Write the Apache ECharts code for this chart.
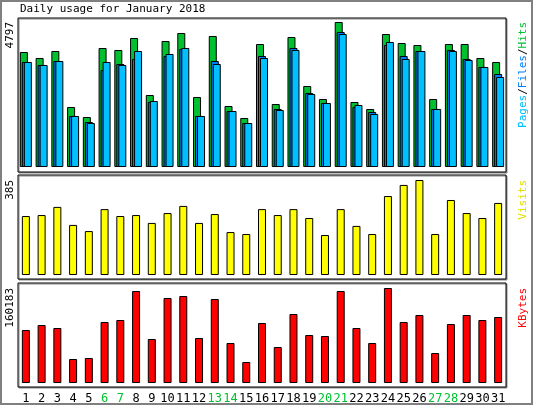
<!DOCTYPE html>
<html><head><meta charset="utf-8">
<script src="https://cdn.jsdelivr.net/npm/echarts@6/dist/echarts.min.js"></script>
<style>html,body{margin:0;padding:0;background:#fff}#c{width:533px;height:405px}</style>
</head><body><div id="c"></div>
<script>
const days = ['1','2','3','4','5','6','7','8','9','10','11','12','13','14','15','16','17','18','19','20','21','22','23','24','25','26','27','28','29','30','31'];
const weekend = ['6','7','13','14','20','21','27','28'];
const hits = [3805,3607,3838,1985,1654,3937,3871,4268,2382,4168,4433,2316,4334,2018,1621,4069,2084,4301,2680,2250,4797,2150,1919,4400,4102,4036,2250,4069,4069,3606,3474];
const files = [3474,3375,3507,1688,1489,3210,3408,3574,2151,3673,3905,1688,3507,1853,1456,3673,1919,3938,2449,2118,4467,1985,1820,4037,3673,3838,1919,3872,3574,3309,3077];
const pages = [3474,3375,3507,1688,1456,3474,3375,3838,2184,3739,3938,1688,3408,1853,1456,3607,1886,3872,2416,2118,4401,2052,1754,4136,3574,3838,1919,3838,3541,3309,2978];
const visits = [239,243,276,203,178,267,239,243,211,251,280,211,247,174,166,267,243,267,231,162,267,199,166,320,365,385,166,304,251,231,292];
const kbytes = [89358,97788,92730,40464,42150,102846,106218,155112,74184,143310,146682,75870,141624,67440,35406,101160,60696,116334,80928,79242,155112,92730,67440,160183,102846,114648,50580,99474,114648,106218,111276];
const hitsMax = 4797, visitsMax = 385, kbMax = 160183;

const font = 'DejaVu Sans Mono';
const G = '#00c030', FB = '#0080ff', PB = '#00c0ff';
const grids = [
  {left:18, width:488, top:18, height:154, below:5, above:4},
  {left:18, width:488, top:175, height:104, below:4, above:5},
  {left:18, width:488, top:283, height:104, below:4, above:5}
];
const maxes = [hitsMax, visitsMax, kbMax];
function yax(i){
  const g = grids[i], px = maxes[i]/(g.height-g.below-g.above);
  return {gridIndex:i, type:'value', min:-g.below*px, max:maxes[i]+g.above*px,
    axisLine:{show:false}, axisTick:{show:false}, axisLabel:{show:false}, splitLine:{show:false}};
}
function xax(i){
  return {gridIndex:i, type:'category', data:days, axisLine:{show:false}, axisTick:{show:false},
    axisLabel:{show:i===2, interval:0, fontFamily:font, fontSize:12, margin:6,
      color:(v)=> weekend.includes(v) ? G : '#000'}};
}
const bs = {borderColor:'#000', borderWidth:1};
const f11 = '11px ' + font;
const chart = echarts.init(document.getElementById('c'));
chart.setOption({
  animation:false,
  grid: grids.map(g=>({left:g.left, width:g.width, top:g.top, height:g.height, show:true,
    borderColor:'#000', borderWidth:1, backgroundColor:'#fff', shadowColor:'#888', shadowOffsetX:1, shadowOffsetY:1, shadowBlur:0})),
  xAxis:[xax(0),xax(1),xax(2)],
  yAxis:[yax(0),yax(1),yax(2)],
  series:[
    {type:'bar', xAxisIndex:0, yAxisIndex:0, data:hits, barWidth:8, barGap:'-75%', itemStyle:{color:G, ...bs}},
    {type:'bar', xAxisIndex:0, yAxisIndex:0, data:files, barWidth:8, barGap:'-75%', itemStyle:{color:FB, ...bs}},
    {type:'bar', xAxisIndex:0, yAxisIndex:0, data:pages, barWidth:8, barGap:'-75%', itemStyle:{color:PB, ...bs}},
    {type:'bar', xAxisIndex:1, yAxisIndex:1, data:visits, barWidth:8, itemStyle:{color:'#ffff00', ...bs}},
    {type:'bar', xAxisIndex:2, yAxisIndex:2, data:kbytes, barWidth:8, itemStyle:{color:'#ff0000', ...bs}}
  ],
  graphic:[
    {type:'rect', z:-10, shape:{x:1, y:1, width:531, height:403}, style:{fill:'#fff', stroke:'#808080', lineWidth:2}},
    {type:'text', left:20, top:4, style:{text:'Daily usage for January 2018', font:f11, fill:'#000'}},
    {type:'text', x:5, y:22, rotation:Math.PI/2, style:{text:String(hitsMax), font:f11, fill:'#000', align:'right', verticalAlign:'top'}},
    {type:'text', x:5, y:180, rotation:Math.PI/2, style:{text:String(visitsMax), font:f11, fill:'#000', align:'right', verticalAlign:'top'}},
    {type:'text', x:5, y:288, rotation:Math.PI/2, style:{text:String(kbMax), font:f11, fill:'#000', align:'right', verticalAlign:'top'}},
    {type:'text', x:518, y:22, rotation:Math.PI/2, style:{text:'{p|Pages}{s|/}{f|Files}{s|/}{h|Hits}', align:'right', verticalAlign:'top',
      rich:{p:{fill:PB, font:f11}, f:{fill:FB, font:f11}, h:{fill:G, font:f11}, s:{fill:'#000', font:f11}}}},
    {type:'text', x:518, y:180, rotation:Math.PI/2, style:{text:'Visits', font:f11, fill:'#e0e000', align:'right', verticalAlign:'top'}},
    {type:'text', x:518, y:288, rotation:Math.PI/2, style:{text:'KBytes', font:f11, fill:'#ff0000', align:'right', verticalAlign:'top'}}
  ]
});
</script></body></html>
